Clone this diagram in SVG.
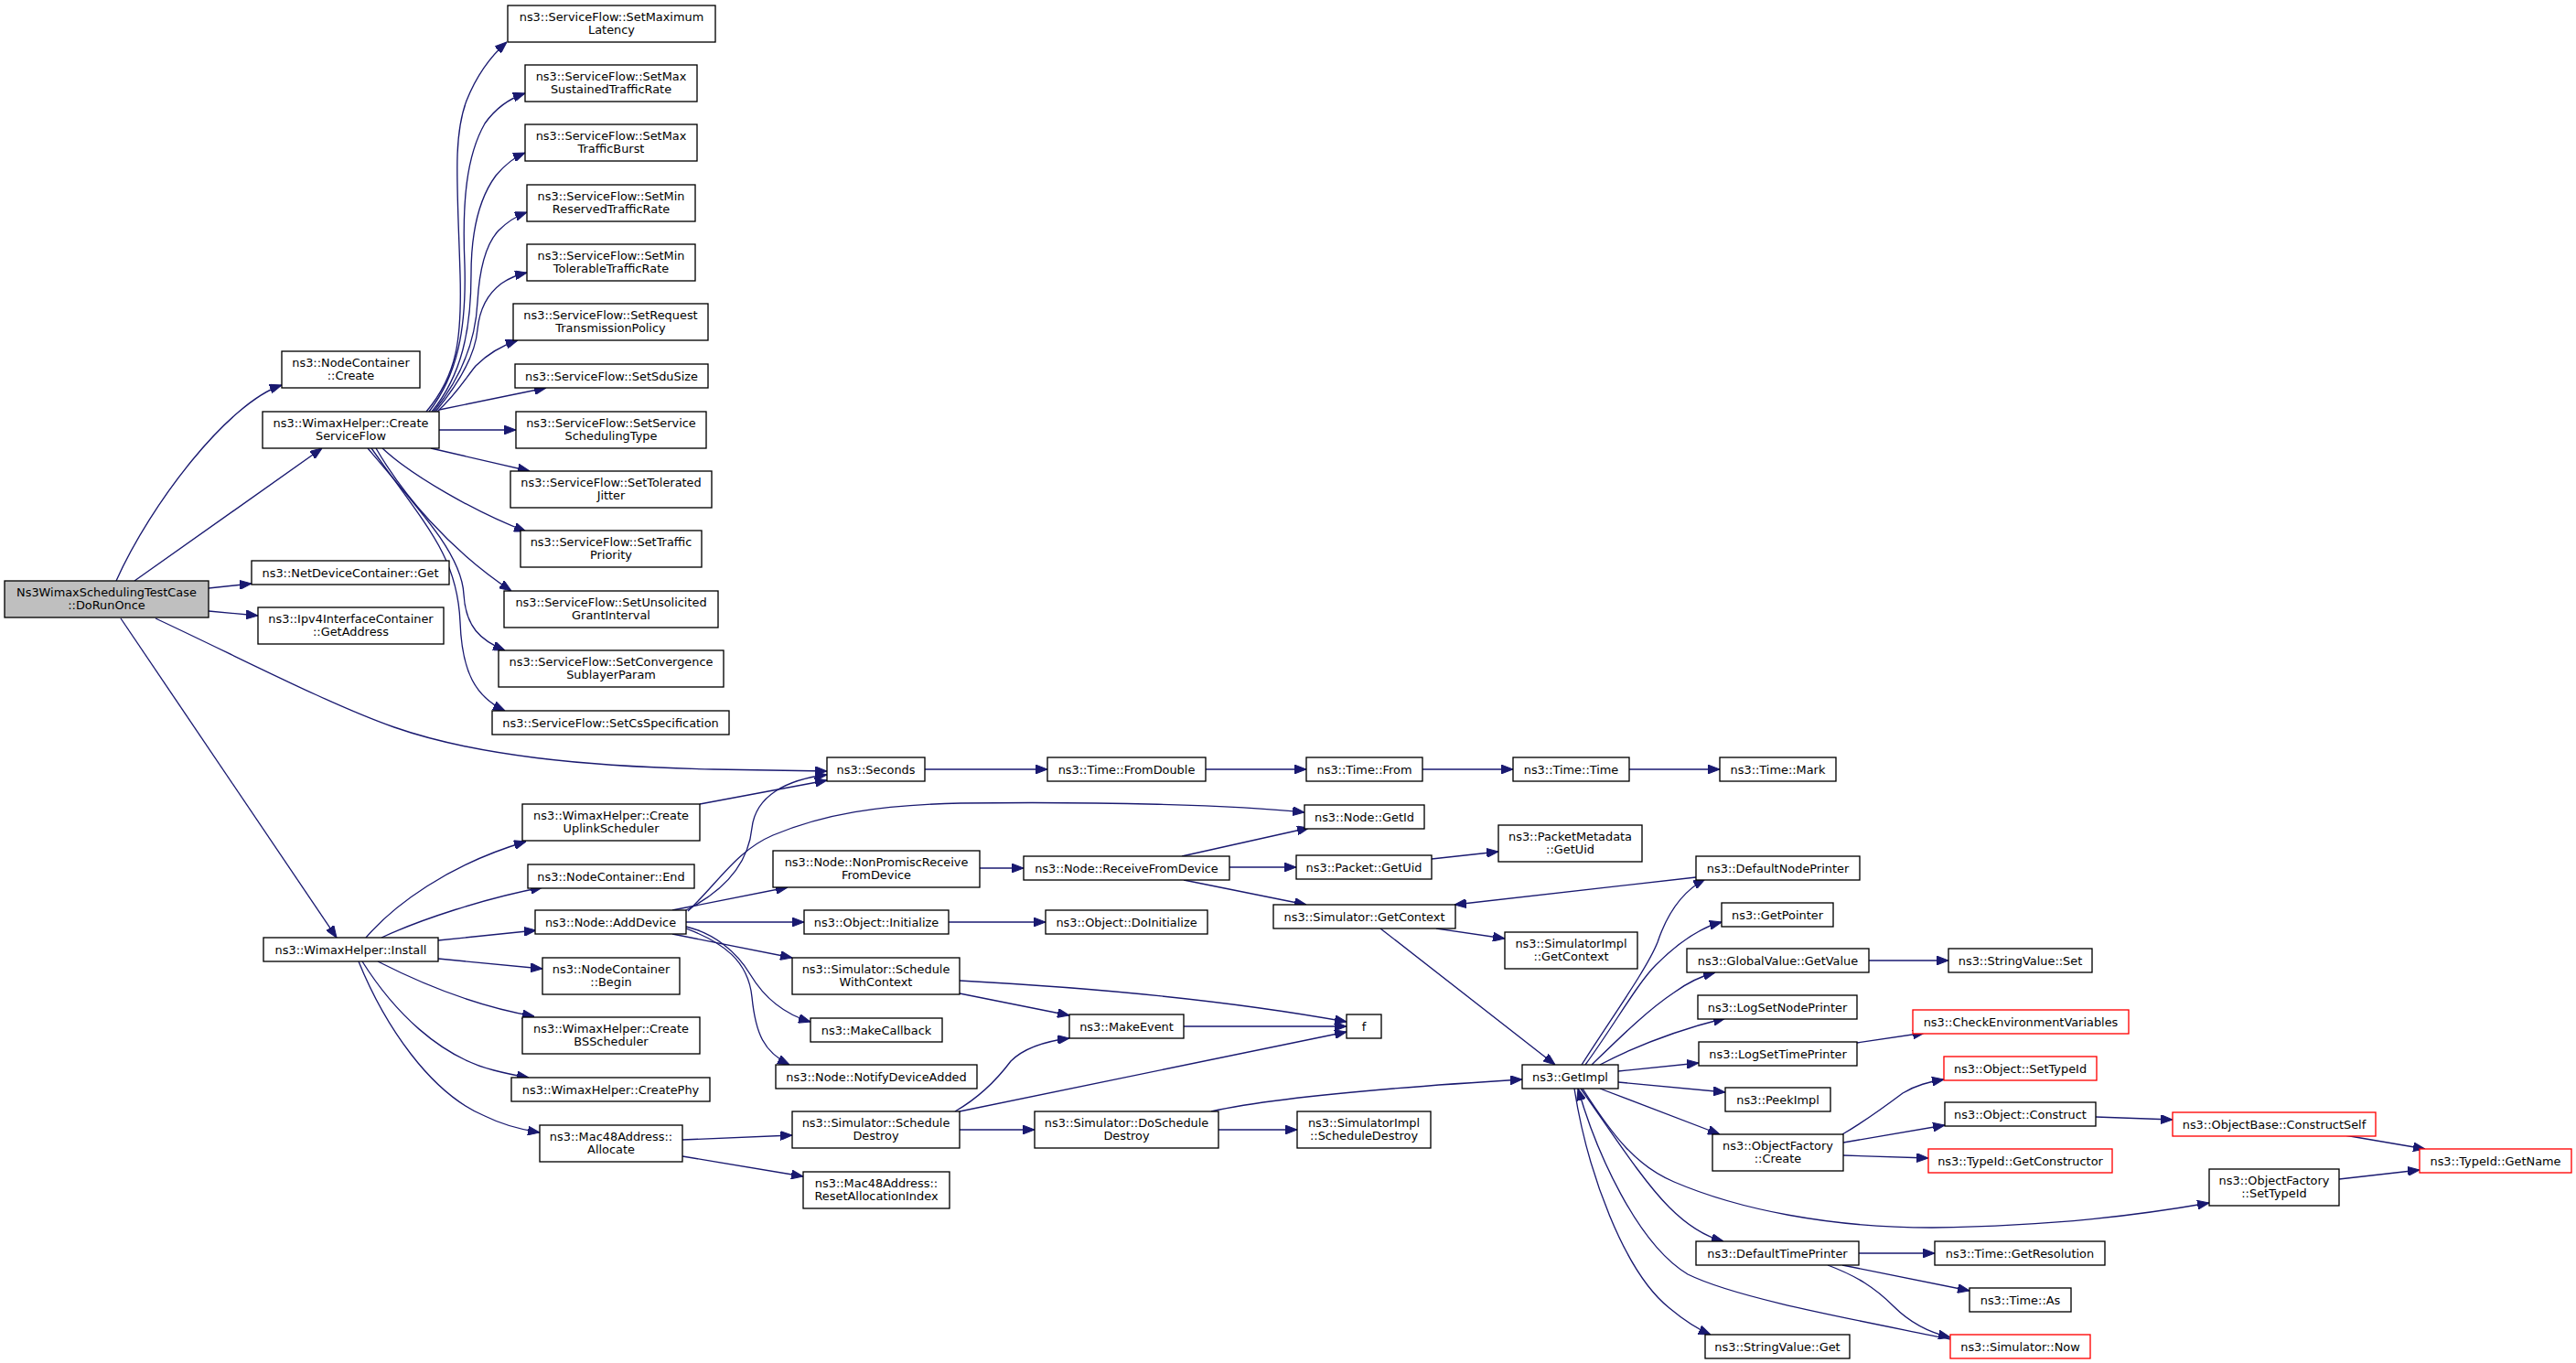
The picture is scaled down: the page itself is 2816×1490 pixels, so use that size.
<svg xmlns="http://www.w3.org/2000/svg" width="2816" height="1490" viewBox="0 0 2816 1490">
<style>
.node rect{fill:#ffffff;stroke:#000000;stroke-width:1.33}
.node.root rect{fill:#bfbfbf}
.node.red rect{stroke:#ff0000}
.node text{font-family:"DejaVu Sans",sans-serif;font-size:12.9px;text-anchor:middle;fill:#000000}
.edges path{fill:none;stroke:#191970;stroke-width:1.33;marker-end:url(#arr)}
</style>
<defs>
<marker id="arr" markerUnits="userSpaceOnUse" markerWidth="13" markerHeight="10" viewBox="0 0 13 10" refX="13" refY="5" orient="auto">
<path d="M0,0 L13,5 L0,10 z" fill="#191970" stroke="#191970" stroke-width="1"/>
</marker>
</defs>
<rect x="0" y="0" width="2816" height="1490" fill="#ffffff"/>
<g class="edges" id="edges">
<path d="M127,635 C165,550 250,440 308,421"/>
<path d="M147,635 L352,490"/>
<path d="M228,643 L275,638"/>
<path d="M228,668 L282,673"/>
<path d="M170,676 C260,718 360,770 431,795 C520,826 640,838 780,841 L904,843"/>
<path d="M132,676 L368,1025"/>
<path d="M466,450 C500,410 505,370 503,300 C500,200 495,150 510,110 C522,80 538,60 554,46"/>
<path d="M469,450 C500,410 510,360 508,290 C505,220 510,170 530,135 C542,118 556,108 574,102"/>
<path d="M472,450 C505,410 515,360 515,300 C515,250 525,215 542,192 C552,180 562,172 574,167"/>
<path d="M474,450 C505,412 520,370 522,330 C524,295 530,268 545,252 C555,242 565,236 576,232"/>
<path d="M476,450 C505,415 520,385 522,360 C524,340 532,322 548,310 C558,303 567,300 576,298"/>
<path d="M478,450 C500,430 510,412 520,400 C532,388 548,378 566,372"/>
<path d="M480,448 L597,424"/>
<path d="M480,470 L564,470"/>
<path d="M471,490 L579,515"/>
<path d="M418,490 C450,520 520,560 575,581"/>
<path d="M411,490 C440,540 490,600 559,646"/>
<path d="M402,490 C470,570 505,610 507,650 C509,685 525,700 552,711"/>
<path d="M406,490 C470,580 500,610 503,680 C505,735 520,762 552,777"/>
<path d="M400,1025 C430,990 490,945 575,920"/>
<path d="M417,1025 C460,1005 530,982 593,970"/>
<path d="M479,1028 L586,1017"/>
<path d="M479,1048 L593,1059"/>
<path d="M413,1051 C460,1075 520,1100 584,1111"/>
<path d="M396,1051 C430,1105 480,1155 540,1170 C555,1174 566,1176 578,1178"/>
<path d="M392,1051 C420,1120 470,1195 530,1220 C550,1230 570,1235 590,1238"/>
<path d="M765,879 L904,853"/>
<path d="M748,996 C790,975 818,945 822,905 C826,870 860,852 904,847"/>
<path d="M752,996 C785,965 805,930 845,913 C900,890 960,880 1050,878 C1200,876 1350,880 1426,888"/>
<path d="M735,995 L861,970"/>
<path d="M750,1008 L879,1008"/>
<path d="M735,1021 L866,1047"/>
<path d="M750,1013 C780,1020 805,1040 820,1065 C835,1090 855,1108 886,1117"/>
<path d="M750,1015 C790,1030 818,1050 822,1090 C826,1130 835,1150 863,1164"/>
<path d="M1071,949 L1119,949"/>
<path d="M1292,936 L1431,905"/>
<path d="M1344,948 L1417,948"/>
<path d="M1294,962 L1428,989"/>
<path d="M1565,939 L1638,931"/>
<path d="M1854,959 L1590,989"/>
<path d="M1570,1015 L1645,1026"/>
<path d="M1509,1015 L1700,1164"/>
<path d="M1011,841 L1145,841"/>
<path d="M1318,841 L1428,841"/>
<path d="M1555,841 L1654,841"/>
<path d="M1781,841 L1880,841"/>
<path d="M1037,1008 L1143,1008"/>
<path d="M1049,1072 C1200,1080 1350,1095 1472,1117"/>
<path d="M1049,1086 L1169,1110"/>
<path d="M1294,1122 L1472,1122"/>
<path d="M1044,1215 C1070,1200 1090,1180 1105,1160 C1120,1145 1145,1138 1169,1135"/>
<path d="M1049,1215 L1472,1128"/>
<path d="M1049,1235 L1131,1235"/>
<path d="M746,1246 L866,1241"/>
<path d="M746,1264 L878,1286"/>
<path d="M1324,1215 C1400,1198 1550,1187 1664,1180"/>
<path d="M1332,1235 L1418,1235"/>
<path d="M1729,1164 C1760,1115 1800,1060 1812,1030 C1822,1000 1838,975 1864,961"/>
<path d="M1733,1164 C1765,1120 1790,1075 1810,1055 C1830,1035 1855,1015 1882,1008"/>
<path d="M1740,1164 C1770,1135 1800,1105 1830,1085 C1845,1074 1860,1067 1875,1063"/>
<path d="M1749,1164 C1785,1145 1830,1127 1886,1113"/>
<path d="M1769,1171 L1857,1162"/>
<path d="M1769,1183 L1886,1194"/>
<path d="M1749,1190 L1880,1240"/>
<path d="M1730,1190 C1765,1245 1790,1275 1830,1292 C1900,1322 2000,1342 2112,1342 C2250,1340 2340,1328 2415,1315"/>
<path d="M1728,1190 C1760,1235 1795,1290 1825,1320 C1845,1340 1865,1352 1884,1357"/>
<path d="M1721,1190 C1735,1280 1775,1390 1825,1430 C1843,1445 1856,1453 1870,1459"/>
<path d="M2132,1464 C2030,1443 1900,1420 1845,1393 C1790,1360 1745,1260 1725,1190"/>
<path d="M2032,1370 L2115,1370"/>
<path d="M2014,1383 L2153,1411"/>
<path d="M1998,1383 C2030,1395 2050,1408 2070,1428 C2090,1448 2110,1457 2132,1462"/>
<path d="M2043,1050 L2130,1050"/>
<path d="M2030,1140 L2104,1129"/>
<path d="M2014,1240 C2040,1225 2060,1210 2080,1195 C2095,1186 2108,1183 2125,1180"/>
<path d="M2015,1249 L2126,1230"/>
<path d="M2015,1263 L2108,1266"/>
<path d="M2291,1221 L2375,1224"/>
<path d="M2563,1241 L2651,1256"/>
<path d="M2557,1289 L2645,1279"/>
</g>
<g id="n_root" class="node root"><rect x="5" y="635" width="223" height="40"/><text x="116.5" y="651.5">Ns3WimaxSchedulingTestCase</text><text x="116.5" y="666.3">::DoRunOnce</text></g>
<g id="n_ncCreate" class="node"><rect x="308" y="384" width="151" height="40"/><text x="383.5" y="400.5">ns3::NodeContainer</text><text x="383.5" y="415.3">::Create</text></g>
<g id="n_csf" class="node"><rect x="287" y="450" width="193" height="40"/><text x="383.5" y="466.5">ns3::WimaxHelper::Create</text><text x="383.5" y="481.3">ServiceFlow</text></g>
<g id="n_ndcGet" class="node"><rect x="275" y="613" width="216" height="26"/><text x="383" y="630.5">ns3::NetDeviceContainer::Get</text></g>
<g id="n_ipv4" class="node"><rect x="282" y="664" width="203" height="40"/><text x="383.5" y="680.5">ns3::Ipv4InterfaceContainer</text><text x="383.5" y="695.3">::GetAddress</text></g>
<g id="n_install" class="node"><rect x="288" y="1025" width="191" height="26"/><text x="383.5" y="1042.5">ns3::WimaxHelper::Install</text></g>
<g id="n_sfLat" class="node"><rect x="555" y="6" width="227" height="40"/><text x="668.5" y="22.5">ns3::ServiceFlow::SetMaximum</text><text x="668.5" y="37.3">Latency</text></g>
<g id="n_sfSus" class="node"><rect x="574" y="71" width="188" height="40"/><text x="668" y="87.5">ns3::ServiceFlow::SetMax</text><text x="668" y="102.3">SustainedTrafficRate</text></g>
<g id="n_sfBurst" class="node"><rect x="574" y="136" width="188" height="40"/><text x="668" y="152.5">ns3::ServiceFlow::SetMax</text><text x="668" y="167.3">TrafficBurst</text></g>
<g id="n_sfRes" class="node"><rect x="576" y="202" width="184" height="40"/><text x="668" y="218.5">ns3::ServiceFlow::SetMin</text><text x="668" y="233.3">ReservedTrafficRate</text></g>
<g id="n_sfTol" class="node"><rect x="576" y="267" width="184" height="40"/><text x="668" y="283.5">ns3::ServiceFlow::SetMin</text><text x="668" y="298.3">TolerableTrafficRate</text></g>
<g id="n_sfReq" class="node"><rect x="561" y="332" width="213" height="40"/><text x="667.5" y="348.5">ns3::ServiceFlow::SetRequest</text><text x="667.5" y="363.3">TransmissionPolicy</text></g>
<g id="n_sfSdu" class="node"><rect x="563" y="398" width="211" height="26"/><text x="668.5" y="415.5">ns3::ServiceFlow::SetSduSize</text></g>
<g id="n_sfSched" class="node"><rect x="564" y="450" width="208" height="40"/><text x="668" y="466.5">ns3::ServiceFlow::SetService</text><text x="668" y="481.3">SchedulingType</text></g>
<g id="n_sfJit" class="node"><rect x="558" y="515" width="220" height="40"/><text x="668" y="531.5">ns3::ServiceFlow::SetTolerated</text><text x="668" y="546.3">Jitter</text></g>
<g id="n_sfPri" class="node"><rect x="569" y="580" width="198" height="40"/><text x="668" y="596.5">ns3::ServiceFlow::SetTraffic</text><text x="668" y="611.3">Priority</text></g>
<g id="n_sfUns" class="node"><rect x="551" y="646" width="234" height="40"/><text x="668" y="662.5">ns3::ServiceFlow::SetUnsolicited</text><text x="668" y="677.3">GrantInterval</text></g>
<g id="n_sfConv" class="node"><rect x="545" y="711" width="246" height="40"/><text x="668" y="727.5">ns3::ServiceFlow::SetConvergence</text><text x="668" y="742.3">SublayerParam</text></g>
<g id="n_sfCs" class="node"><rect x="538" y="777" width="259" height="26"/><text x="667.5" y="794.5">ns3::ServiceFlow::SetCsSpecification</text></g>
<g id="n_seconds" class="node"><rect x="904" y="828" width="107" height="26"/><text x="957.5" y="845.5">ns3::Seconds</text></g>
<g id="n_fromDouble" class="node"><rect x="1145" y="828" width="173" height="26"/><text x="1231.5" y="845.5">ns3::Time::FromDouble</text></g>
<g id="n_from" class="node"><rect x="1428" y="828" width="127" height="26"/><text x="1491.5" y="845.5">ns3::Time::From</text></g>
<g id="n_time" class="node"><rect x="1654" y="828" width="127" height="26"/><text x="1717.5" y="845.5">ns3::Time::Time</text></g>
<g id="n_mark" class="node"><rect x="1880" y="828" width="127" height="26"/><text x="1943.5" y="845.5">ns3::Time::Mark</text></g>
<g id="n_uplink" class="node"><rect x="571" y="879" width="194" height="40"/><text x="668" y="895.5">ns3::WimaxHelper::Create</text><text x="668" y="910.3">UplinkScheduler</text></g>
<g id="n_ncEnd" class="node"><rect x="577" y="945" width="182" height="26"/><text x="668" y="962.5">ns3::NodeContainer::End</text></g>
<g id="n_addDev" class="node"><rect x="585" y="995" width="165" height="26"/><text x="667.5" y="1012.5">ns3::Node::AddDevice</text></g>
<g id="n_ncBegin" class="node"><rect x="593" y="1047" width="150" height="40"/><text x="668" y="1063.5">ns3::NodeContainer</text><text x="668" y="1078.3">::Begin</text></g>
<g id="n_bss" class="node"><rect x="571" y="1112" width="194" height="40"/><text x="668" y="1128.5">ns3::WimaxHelper::Create</text><text x="668" y="1143.3">BSScheduler</text></g>
<g id="n_phy" class="node"><rect x="559" y="1178" width="217" height="26"/><text x="667.5" y="1195.5">ns3::WimaxHelper::CreatePhy</text></g>
<g id="n_alloc" class="node"><rect x="590" y="1230" width="156" height="40"/><text x="668" y="1246.5">ns3::Mac48Address::</text><text x="668" y="1261.3">Allocate</text></g>
<g id="n_nonPromisc" class="node"><rect x="845" y="930" width="226" height="40"/><text x="958" y="946.5">ns3::Node::NonPromiscReceive</text><text x="958" y="961.3">FromDevice</text></g>
<g id="n_recv" class="node"><rect x="1119" y="936" width="225" height="26"/><text x="1231.5" y="953.5">ns3::Node::ReceiveFromDevice</text></g>
<g id="n_getId" class="node"><rect x="1426" y="880" width="131" height="26"/><text x="1491.5" y="897.5">ns3::Node::GetId</text></g>
<g id="n_pktUid" class="node"><rect x="1417" y="935" width="148" height="26"/><text x="1491" y="952.5">ns3::Packet::GetUid</text></g>
<g id="n_pmUid" class="node"><rect x="1638" y="902" width="157" height="40"/><text x="1716.5" y="918.5">ns3::PacketMetadata</text><text x="1716.5" y="933.3">::GetUid</text></g>
<g id="n_simCtx" class="node"><rect x="1392" y="989" width="199" height="26"/><text x="1491.5" y="1006.5">ns3::Simulator::GetContext</text></g>
<g id="n_defNode" class="node"><rect x="1854" y="936" width="179" height="26"/><text x="1943.5" y="953.5">ns3::DefaultNodePrinter</text></g>
<g id="n_getPtr" class="node"><rect x="1882" y="987" width="122" height="26"/><text x="1943" y="1004.5">ns3::GetPointer</text></g>
<g id="n_implCtx" class="node"><rect x="1645" y="1019" width="145" height="40"/><text x="1717.5" y="1035.5">ns3::SimulatorImpl</text><text x="1717.5" y="1050.3">::GetContext</text></g>
<g id="n_init" class="node"><rect x="879" y="995" width="158" height="26"/><text x="958" y="1012.5">ns3::Object::Initialize</text></g>
<g id="n_doInit" class="node"><rect x="1143" y="995" width="177" height="26"/><text x="1231.5" y="1012.5">ns3::Object::DoInitialize</text></g>
<g id="n_swc" class="node"><rect x="866" y="1047" width="183" height="40"/><text x="957.5" y="1063.5">ns3::Simulator::Schedule</text><text x="957.5" y="1078.3">WithContext</text></g>
<g id="n_mkCb" class="node"><rect x="886" y="1113" width="144" height="26"/><text x="958" y="1130.5">ns3::MakeCallback</text></g>
<g id="n_mkEv" class="node"><rect x="1169" y="1109" width="125" height="26"/><text x="1231.5" y="1126.5">ns3::MakeEvent</text></g>
<g id="n_f" class="node"><rect x="1472" y="1109" width="38" height="26"/><text x="1491" y="1126.5">f</text></g>
<g id="n_notify" class="node"><rect x="848" y="1164" width="220" height="26"/><text x="958" y="1181.5">ns3::Node::NotifyDeviceAdded</text></g>
<g id="n_sched" class="node"><rect x="866" y="1215" width="183" height="40"/><text x="957.5" y="1231.5">ns3::Simulator::Schedule</text><text x="957.5" y="1246.3">Destroy</text></g>
<g id="n_doSched" class="node"><rect x="1131" y="1215" width="201" height="40"/><text x="1231.5" y="1231.5">ns3::Simulator::DoSchedule</text><text x="1231.5" y="1246.3">Destroy</text></g>
<g id="n_reset" class="node"><rect x="878" y="1281" width="160" height="40"/><text x="958" y="1297.5">ns3::Mac48Address::</text><text x="958" y="1312.3">ResetAllocationIndex</text></g>
<g id="n_getImpl" class="node"><rect x="1664" y="1164" width="105" height="26"/><text x="1716.5" y="1181.5">ns3::GetImpl</text></g>
<g id="n_implSD" class="node"><rect x="1418" y="1215" width="146" height="40"/><text x="1491" y="1231.5">ns3::SimulatorImpl</text><text x="1491" y="1246.3">::ScheduleDestroy</text></g>
<g id="n_gv" class="node"><rect x="1844" y="1037" width="199" height="26"/><text x="1943.5" y="1054.5">ns3::GlobalValue::GetValue</text></g>
<g id="n_svSet" class="node"><rect x="2130" y="1037" width="157" height="26"/><text x="2208.5" y="1054.5">ns3::StringValue::Set</text></g>
<g id="n_lsnp" class="node"><rect x="1856" y="1088" width="174" height="26"/><text x="1943" y="1105.5">ns3::LogSetNodePrinter</text></g>
<g id="n_lstp" class="node"><rect x="1857" y="1139" width="173" height="26"/><text x="1943.5" y="1156.5">ns3::LogSetTimePrinter</text></g>
<g id="n_cev" class="node red"><rect x="2091" y="1104" width="236" height="26"/><text x="2209" y="1121.5">ns3::CheckEnvironmentVariables</text></g>
<g id="n_peek" class="node"><rect x="1886" y="1189" width="115" height="26"/><text x="1943.5" y="1206.5">ns3::PeekImpl</text></g>
<g id="n_ofCreate" class="node"><rect x="1872" y="1240" width="143" height="40"/><text x="1943.5" y="1256.5">ns3::ObjectFactory</text><text x="1943.5" y="1271.3">::Create</text></g>
<g id="n_objSet" class="node red"><rect x="2125" y="1155" width="167" height="26"/><text x="2208.5" y="1172.5">ns3::Object::SetTypeId</text></g>
<g id="n_objCon" class="node"><rect x="2126" y="1205" width="165" height="26"/><text x="2208.5" y="1222.5">ns3::Object::Construct</text></g>
<g id="n_cs" class="node red"><rect x="2375" y="1216" width="222" height="26"/><text x="2486" y="1233.5">ns3::ObjectBase::ConstructSelf</text></g>
<g id="n_gc" class="node red"><rect x="2108" y="1256" width="201" height="26"/><text x="2208.5" y="1273.5">ns3::TypeId::GetConstructor</text></g>
<g id="n_gn" class="node red"><rect x="2645" y="1256" width="166" height="26"/><text x="2728" y="1273.5">ns3::TypeId::GetName</text></g>
<g id="n_ofSet" class="node"><rect x="2415" y="1278" width="142" height="40"/><text x="2486" y="1294.5">ns3::ObjectFactory</text><text x="2486" y="1309.3">::SetTypeId</text></g>
<g id="n_dtp" class="node"><rect x="1854" y="1357" width="178" height="26"/><text x="1943" y="1374.5">ns3::DefaultTimePrinter</text></g>
<g id="n_res" class="node"><rect x="2115" y="1357" width="186" height="26"/><text x="2208" y="1374.5">ns3::Time::GetResolution</text></g>
<g id="n_as" class="node"><rect x="2153" y="1408" width="111" height="26"/><text x="2208.5" y="1425.5">ns3::Time::As</text></g>
<g id="n_now" class="node red"><rect x="2132" y="1459" width="153" height="26"/><text x="2208.5" y="1476.5">ns3::Simulator::Now</text></g>
<g id="n_svGet" class="node"><rect x="1864" y="1459" width="158" height="26"/><text x="1943" y="1476.5">ns3::StringValue::Get</text></g>
</svg>
